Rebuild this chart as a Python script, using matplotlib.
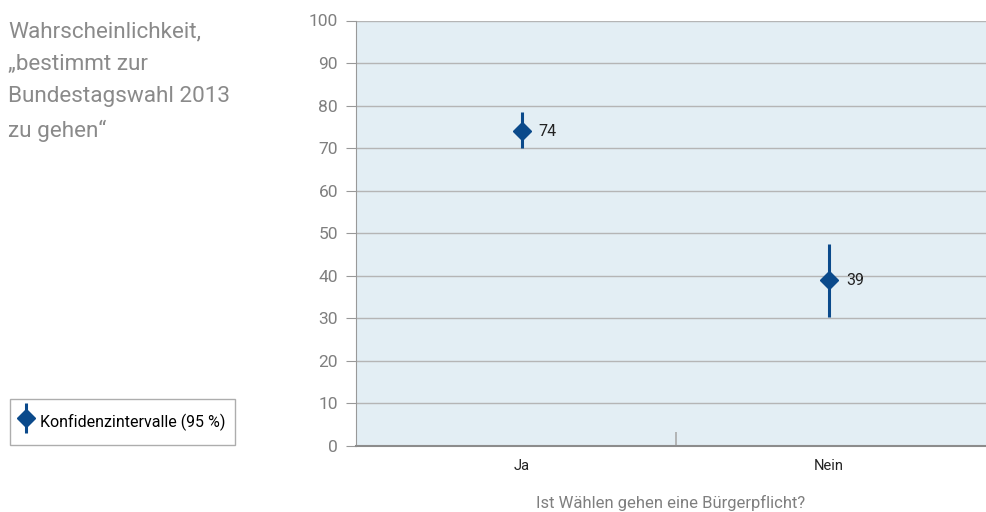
import matplotlib
matplotlib.use("Agg")
import matplotlib.pyplot as plt
from matplotlib.container import ErrorbarContainer
from matplotlib.legend_handler import HandlerErrorbar
import numpy as np

categories = ["Ja", "Nein"]
values = [74, 39]
lower = [70, 30.3]
upper = [78.6, 47.4]
yticks = [0, 10, 20, 30, 40, 50, 60, 70, 80, 90, 100]

plt.rcParams['font.family'] = ['DejaVu Sans Condensed', 'Roboto', 'DejaVu Sans']

W, H = 986, 512
fig = plt.figure(figsize=(W/100, H/100), dpi=100)
ax = fig.add_axes([356/W, (H-446)/H, (986-356)/W, (446-20.5)/H])

blue = "#0b4a8b"
ax.set_facecolor("#e3eef4")
x = np.arange(len(categories))
yerr = [np.array(values) - np.array(lower), np.array(upper) - np.array(values)]
eb = ax.errorbar(x, values, yerr=yerr, fmt="D", color=blue, ecolor=blue,
                 markersize=9, elinewidth=2.2, capsize=0, zorder=3,
                 label="Konfidenzintervalle (95 %)")
for xi, v in zip(x, values):
    ax.annotate(str(v), (xi, v), xytext=(12, 0), textcoords="offset points",
                va="center", ha="left", fontsize=11.5, color="#222222")

ax.set_ylim(0, 100)
ax.set_xlim(-0.541, 1.511)
ax.set_yticks(yticks)
ax.set_yticklabels([str(t) for t in yticks], fontsize=12.5, color="#7f7f7f")
ax.yaxis.grid(True, color="#b5b5b5", linewidth=1)
ax.set_axisbelow(True)
ax.tick_params(axis="y", length=7, color="#999999", pad=6)
ax.set_xticks(x)
ax.set_xticklabels(categories, fontsize=10.5, color="#222222")
ax.tick_params(axis="x", length=0, pad=9)
ax.set_xticks([0.5], minor=True)
ax.tick_params(axis="x", which="minor", direction="in", length=10, color="#aaaaaa", width=1.2)
for s in ["top", "right"]:
    ax.spines[s].set_visible(False)
ax.spines["left"].set_color("#999999")
ax.spines["bottom"].set_color("#8c8c8c")
ax.spines["bottom"].set_linewidth(1.5)

ax.set_xlabel("Ist Wählen gehen eine Bürgerpflicht?", fontsize=12, color="#7f7f7f", labelpad=16)

fig.text(8/W, 1 - 21/H, "Wahrscheinlichkeit,\n\u201ebestimmt zur\nBundestagswahl 2013\nzu gehen\u201c",
         ha="left", va="top", fontsize=16.2, color="#8a8a8a", linespacing=1.72)

leg = fig.legend(handles=[eb], labels=["Konfidenzintervalle (95 %)"],
                 handler_map={ErrorbarContainer: HandlerErrorbar(yerr_size=0.95)},
                 loc="center left", bbox_to_anchor=(10/W, 1 - 422/H), frameon=True,
                 fontsize=11.5, handlelength=0.8, handleheight=2.2, handletextpad=0.45,
                 borderpad=0.6, borderaxespad=0, fancybox=False, edgecolor="#999999")
leg.get_frame().set_linewidth(1)

fig.savefig("out.png", dpi=100)
